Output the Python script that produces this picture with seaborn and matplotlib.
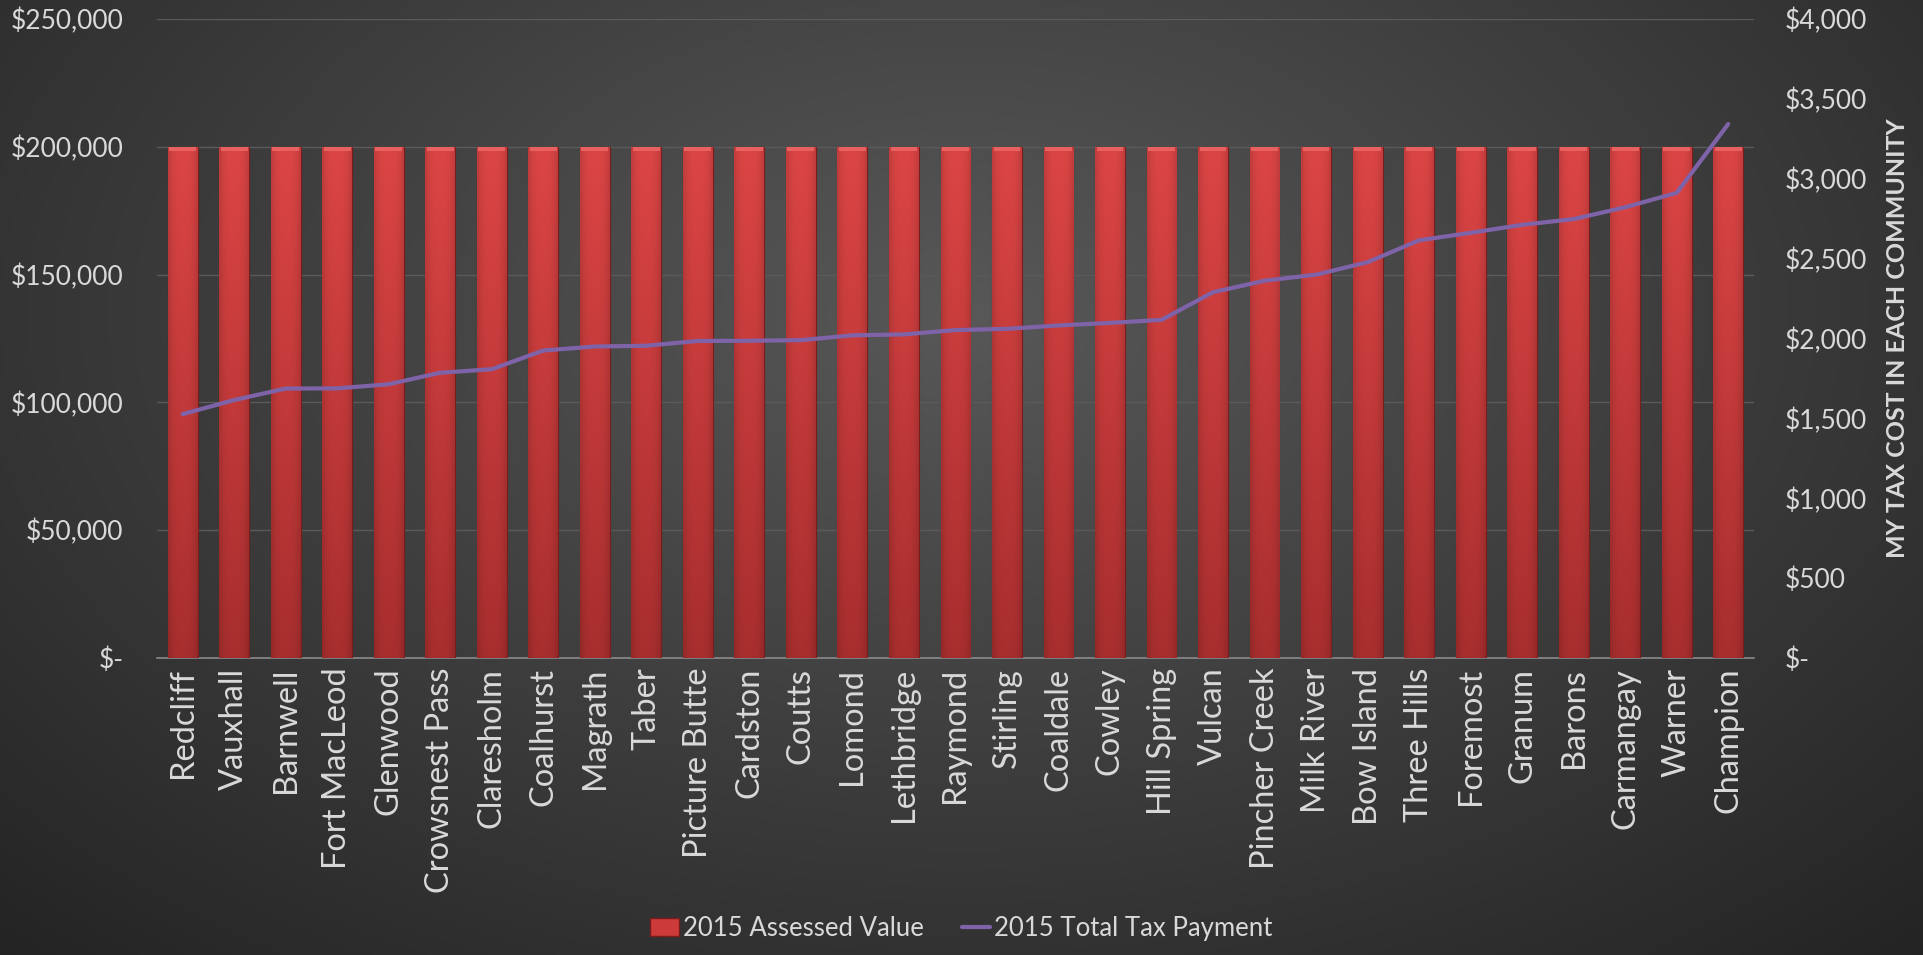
import numpy as np
import pandas as pd
import matplotlib
matplotlib.use("Agg")
import matplotlib.pyplot as plt
import matplotlib.ticker as mticker
from matplotlib.patches import Patch
from matplotlib.lines import Line2D
import seaborn as sns

communities = ["Redcliff", "Vauxhall", "Barnwell", "Fort MacLeod", "Glenwood",
               "Crowsnest Pass", "Claresholm", "Coalhurst", "Magrath", "Taber",
               "Picture Butte", "Cardston", "Coutts", "Lomond", "Lethbridge",
               "Raymond", "Stirling", "Coaldale", "Cowley", "Hill Spring",
               "Vulcan", "Pincher Creek", "Milk River", "Bow Island", "Three Hills",
               "Foremost", "Granum", "Barons", "Carmangay", "Warner", "Champion"]
assessed_value = [200000] * 31
tax_payment = [1527, 1615, 1687, 1688, 1714, 1786, 1808, 1925, 1950, 1955,
               1985, 1986, 1990, 2020, 2026, 2053, 2061, 2082, 2098, 2117,
               2290, 2362, 2400, 2478, 2615, 2662, 2712, 2748, 2822, 2912, 3343]

df = pd.DataFrame({"Community": communities,
                   "Assessed": assessed_value,
                   "Tax": tax_payment})

sns.set_theme(style="dark")
plt.rcParams["font.family"] = ["Lato", "DejaVu Sans"]
TXT = "#d9d9d9"

fig = plt.figure(figsize=(19.23, 9.55), dpi=100)

# radial background
bg = fig.add_axes([0, 0, 1, 1], zorder=-10)
yy, xx = np.mgrid[0:1:400j, 0:1:800j]
r = np.sqrt(((xx - 0.5) / 0.75) ** 2 + ((yy - 0.33) / 0.95) ** 2)
r = np.clip(r, 0, 1)
lo = np.array([0x58, 0x58, 0x58]) / 255
hi = np.array([0x22, 0x22, 0x22]) / 255
img = lo[None, None, :] * (1 - r[..., None]) + hi[None, None, :] * r[..., None]
bg.imshow(img, extent=[0, 1, 0, 1], aspect="auto", origin="upper")
bg.axis("off")

ax = fig.add_axes([0.0816, 0.311, 0.8305, 0.669])
ax.set_facecolor("none")

sns.barplot(data=df, x="Community", y="Assessed", ax=ax, color="#d24040",
            width=0.58, edgecolor="#7a1c1c", linewidth=0.8, saturation=1, zorder=3)

ax.set_ylim(0, 250000)
ax.set_xlim(-0.5, len(communities) - 0.5)

# gradient overlay on bars
grad = np.linspace(0, 1, 100)[:, None]
top_c = np.array([0xdc, 0x45, 0x45]) / 255
bot_c = np.array([0xa8, 0x2e, 0x2e]) / 255
gimg = top_c[None, None, :] * (1 - grad[..., None]) + bot_c[None, None, :] * grad[..., None]
horiz = 1 - 0.12 * np.abs(np.linspace(-1, 1, 20))[None, :] ** 3
gimg = gimg * horiz[..., None]
for p in list(ax.patches):
    x0, y0 = p.get_x(), p.get_y()
    w, h = p.get_width(), p.get_height()
    im = ax.imshow(gimg, extent=[x0, x0 + w, y0, y0 + h], aspect="auto",
                   origin="upper", zorder=3.5)
    im.set_clip_path(p)
    # top bevel
    ax.fill_between([x0 + 0.03, x0 + w - 0.03], y0 + h - 1800, y0 + h,
                    color="#e86060", zorder=3.6, linewidth=0)
ax.set_xlim(-0.5, len(communities) - 0.5)
ax.set_ylim(0, 250000)

ax.yaxis.set_major_locator(mticker.MultipleLocator(50000))
ax.yaxis.set_major_formatter(mticker.FuncFormatter(
    lambda v, _: "$-" if v == 0 else f"${v:,.0f}"))
ax.grid(axis="y", color="#5a5a5a", linewidth=1.0, zorder=0)
ax.grid(axis="x", visible=False)
for s in ["top", "right", "left"]:
    ax.spines[s].set_visible(False)
ax.spines["bottom"].set_color("#8a8a8a")
ax.spines["bottom"].set_linewidth(1.2)
ax.tick_params(axis="y", length=0, pad=24, labelsize=19, labelcolor=TXT)
ax.tick_params(axis="x", length=0, pad=7, labelsize=23.5, labelcolor=TXT,
               labelrotation=90)
ax.set_xlabel("")
ax.set_ylabel("")

ax2 = ax.twinx()
ax2.set_facecolor("none")
sns.lineplot(x=np.arange(len(communities)), y=df["Tax"], ax=ax2,
             color="#7f63a8", linewidth=3, zorder=5)
ax2.set_ylim(0, 4000)
ax2.set_xlim(-0.5, len(communities) - 0.5)
ax2.yaxis.set_major_locator(mticker.MultipleLocator(500))
ax2.yaxis.set_major_formatter(mticker.FuncFormatter(
    lambda v, _: "$-" if v == 0 else f"${v:,.0f}"))
ax2.tick_params(axis="y", length=0, pad=22, labelsize=19, labelcolor=TXT)
ax2.grid(False)
for s in ax2.spines.values():
    s.set_visible(False)
ax2.set_ylabel("MY TAX COST IN EACH COMMUNITY", color=TXT, fontsize=18,
               fontweight="bold", labelpad=14)

handles = [Patch(facecolor="#cc3a3a", edgecolor="#7a1c1c"),
           Line2D([0], [0], color="#7f63a8", linewidth=3)]
leg = fig.legend(handles, ["2015 Assessed Value", "2015 Total Tax Payment"],
                 loc="center", bbox_to_anchor=(0.5, 0.028), ncol=2,
                 frameon=False, fontsize=18.5, labelcolor=TXT,
                 handlelength=1.1, handletextpad=0.15, columnspacing=1.5)

fig.savefig("out.png", dpi=100)
